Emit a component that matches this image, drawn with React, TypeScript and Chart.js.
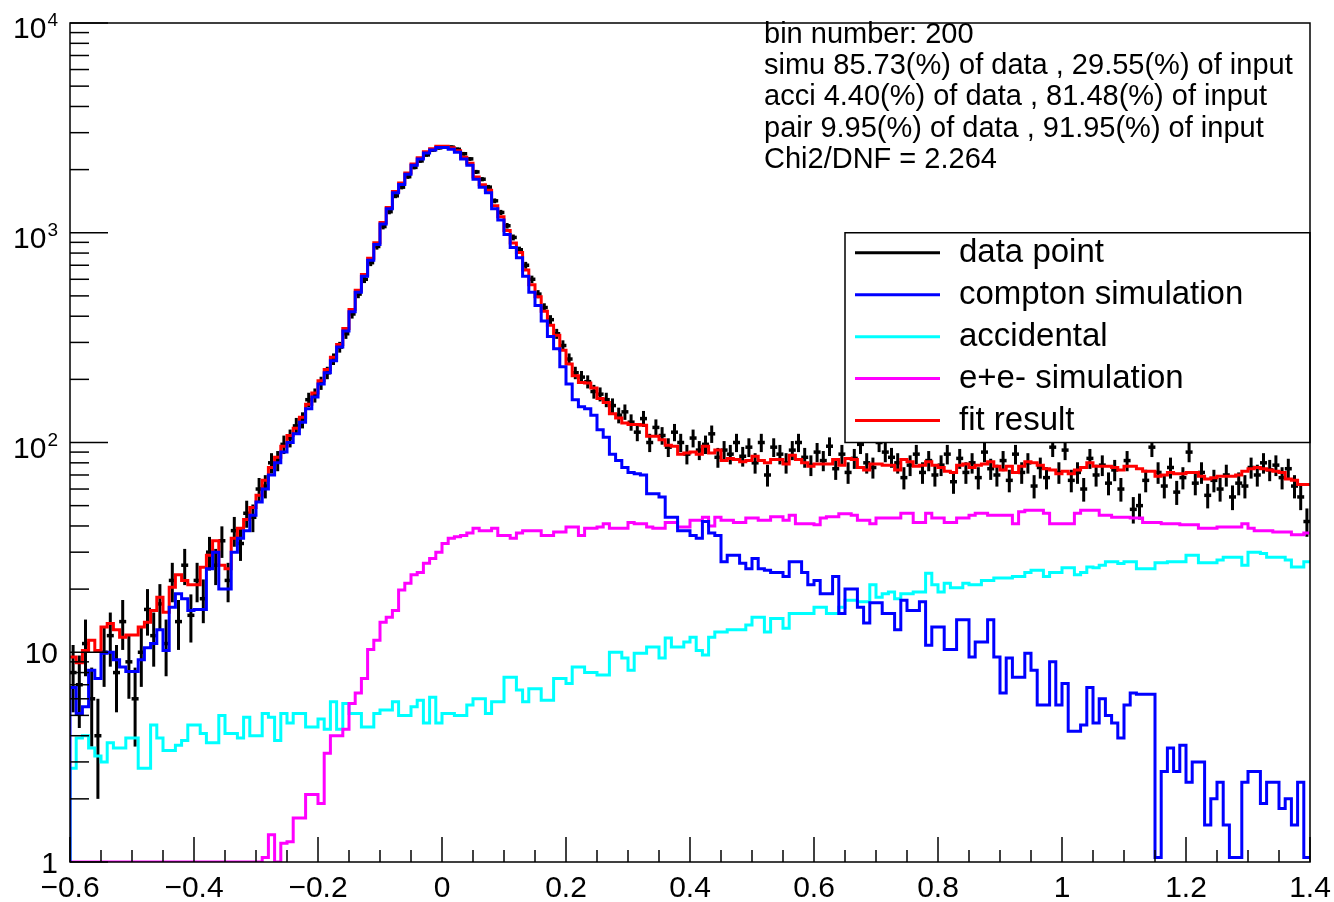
import React, { useEffect, useRef } from 'react';
import { Chart, registerables } from 'chart.js';

Chart.register(...registerables);

// ---- axis ranges / binning (200 bins) ----
const X_MIN = -0.6;
const X_MAX = 1.4;
const BIN_WIDTH = 0.01;
const Y_MIN = 1;
const Y_MAX = 10000;

// ---- series (one value per bin) ----
const COMPTON = [
  6.8, 5.1, 5.5, 8.2, 7.5, 9.9, 10, 9.2, 8.5, 8.1,
  8.1, 9.2, 10.5, 11, 12.8, 10.2, 16.4, 19, 18, 15.8,
  16, 16, 25, 30, 20, 20, 30, 35, 38, 45,
  52, 60, 70, 80, 90, 100, 110, 125, 145, 165,
  190, 215, 245, 285, 340, 420, 520, 620, 740, 880,
  1100, 1300, 1550, 1700, 1900, 2100, 2250, 2400, 2480, 2550,
  2550, 2500, 2420, 2250, 2100, 1800, 1650, 1550, 1300, 1150,
  980, 850, 760, 620, 520, 450, 380, 320, 280, 230,
  190, 160, 148, 145, 135, 115, 106, 88, 82, 76,
  72, 71, 70, 57, 57, 55, 44, 44, 38, 38,
  36, 35, 42, 37, 36, 27, 29, 29, 26.6, 25,
  28, 25, 24.6, 24, 24, 23, 27, 27, 24, 21,
  22, 19, 19, 23, 15.3, 20, 20, 16.4, 13.8, 17.2,
  17.2, 15.3, 15.3, 12.8, 17.7, 15.8, 15.8, 17.4, 10.8, 13.2,
  13.2, 10.3, 10.3, 14.3, 14.3, 9.5, 11.2, 11.2, 14.3, 9.5,
  6.4, 9.4, 7.6, 7.6, 9.9, 8.2, 5.6, 5.6, 9, 5.6,
  7.1, 4.2, 4.2, 4.5, 6.8, 4.6, 6.0, 5.0, 4.6, 3.9,
  5.6, 6.4, 6.3, 6.3, 6.3, 1.05, 2.7, 3.5, 2.7, 3.6,
  2.4, 3.0, 3.0, 1.5, 2.0, 2.4, 1.5, 1.05, 1.05, 2.4,
  2.7, 2.7, 1.9, 2.4, 2.4, 1.8, 2.0, 1.5, 2.4, 1.05,
];

const ACCIDENTAL = [
  2.8, 3.9, 4.0, 3.5, 3.2, 3.0, 3.7, 3.5, 3.5, 3.9,
  3.9, 2.8, 2.8, 4.5, 3.9, 3.4, 3.4, 3.6, 3.8, 4.5,
  4.5, 4.1, 3.7, 3.7, 5.0, 4.1, 4.1, 3.9, 4.9, 4.0,
  4.0, 5.1, 4.9, 3.8, 5.1, 4.6, 5.1, 5.1, 4.4, 4.4,
  4.8, 4.3, 5.8, 4.3, 5.7, 5.1, 5.1, 4.4, 4.4, 5.1,
  5.3, 5.3, 5.8, 5.0, 5.0, 5.5, 5.9, 4.6, 6.1, 4.6,
  5.1, 5.1, 5.0, 5.0, 5.6, 6.0, 6.0, 5.1, 5.8, 5.8,
  7.6, 7.6, 6.6, 5.8, 6.7, 6.7, 5.9, 5.9, 7.5, 7.5,
  7.1, 8.5, 8.5, 8.0, 8.0, 7.8, 7.8, 10, 10, 9.4,
  8.2, 9.9, 9.9, 10.6, 10.6, 9.4, 11.7, 10.6, 10.6, 11.2,
  11.8, 10.2, 9.7, 11.8, 12.5, 12.5, 12.8, 12.8, 12.8, 13.5,
  14.7, 14.7, 12.5, 14.5, 14.5, 13.0, 15.3, 15.3, 15.3, 15.3,
  16.4, 16.4, 15.3, 15.3, 16.4, 17.7, 17.7, 17.4, 17.4, 21,
  18.3, 19, 19.4, 18, 19, 19, 19.4, 19.4, 23.8, 21,
  19.4, 21.3, 20.3, 20.3, 21.3, 21, 21, 22, 22, 22.6,
  22.6, 22.6, 23, 23, 24, 24.6, 24.6, 23, 24, 24,
  25.3, 25.3, 23.4, 24, 25.5, 25.3, 26, 27, 27, 26.5,
  27, 27, 25, 25, 25, 26.7, 26.7, 27, 27, 27,
  29, 29, 26.7, 26.7, 26.7, 27.5, 28.4, 28.4, 28.4, 26,
  30, 30, 29.6, 28.4, 28.4, 28.4, 27.5, 25.5, 25.5, 27,
];

const PAIR = [
  1, 1, 1, 1, 1, 1, 1, 1, 1, 1,
  1, 1, 1, 1, 1, 1, 1, 1, 1, 1,
  1, 1, 1, 1, 1, 1, 1, 1, 1, 1,
  1, 1.05, 1.35, 1.0, 1.23, 1.25, 1.62, 1.62, 2.1, 2.1,
  1.9, 3.3, 4.0, 4.0, 4.3, 5.7, 6.4, 7.5, 10.3, 11.4,
  13.9, 14.7, 15.8, 19.8, 21.3, 23.4, 24, 26.6, 28, 30,
  33, 35, 35.5, 36, 37, 39, 38, 38, 39, 36,
  36, 35, 37, 38, 38, 38, 36, 36, 37.4, 37.4,
  39.5, 39.5, 36, 39, 39, 39.5, 41, 39, 39, 39,
  41.6, 41, 41, 39.5, 39, 39, 41.6, 41.6, 39.5, 39.5,
  42.6, 42.6, 44, 40, 44, 42.6, 42.6, 41.6, 41.6, 43.6,
  43.6, 42.6, 42.6, 44.3, 44.3, 42.6, 45, 41, 41, 41,
  40.5, 43.6, 44.3, 44.3, 45.8, 45.8, 45, 42.6, 42.6, 41,
  43.6, 43.6, 43.6, 43.6, 46, 46, 41.6, 41.6, 46, 43.6,
  43.6, 41.6, 41.6, 43.6, 43.6, 45, 46, 46, 45, 45,
  45, 45, 41, 46.7, 47.5, 47.5, 47.5, 46, 41, 41,
  41, 41, 46, 47.5, 47.5, 47.5, 45, 45, 44, 44,
  44, 43.6, 43.6, 41.6, 41.6, 41.6, 41, 41, 41, 40.5,
  40.5, 40.5, 39, 39, 39, 39.5, 39.5, 39.5, 39.5, 41,
  39, 38, 38, 38, 37.4, 37.4, 37.4, 36.3, 36.3, 37,
];

const FIT = [
  9.5, 8.9, 10.2, 11.4, 10.2, 13.2, 13.7, 12.8, 11.8, 12.1,
  12.1, 13.2, 13.9, 15.8, 18.3, 15.5, 20.4, 23.4, 22, 21,
  21, 25.4, 29, 34, 26, 25, 35, 39, 43, 49,
  56, 66, 76, 85, 96, 108, 117, 132, 152, 172,
  197, 223, 255, 293, 350, 431, 532, 632, 755, 897,
  1119, 1320, 1572, 1725, 1926, 2129, 2280, 2431, 2514, 2585,
  2588, 2540, 2460, 2291, 2143, 1845, 1694, 1593, 1345, 1192,
  1024, 893, 804, 664, 565, 495, 422, 362, 325, 275,
  237, 208, 193, 192, 182, 162, 155, 137, 131, 124,
  122, 122, 121, 107, 107, 103, 97, 96, 88, 89,
  90, 88, 96, 89, 92, 82, 84, 83, 81, 82,
  86, 82, 80, 83, 83, 79, 87, 83, 80, 77,
  79, 79, 79, 83, 78, 84, 83, 76, 74, 79,
  79, 78, 78, 74, 83, 81, 77, 78, 81, 78,
  76, 73, 72, 78, 79, 76, 78, 79, 81, 77,
  74, 77, 72, 77, 81, 80, 78, 75, 74, 71,
  73, 71, 74, 76, 80, 77, 77, 77, 76, 74,
  77, 77, 75, 73, 73, 69, 70, 72, 71, 71,
  72, 72, 69, 67, 68, 69, 69, 69, 70, 73,
  75, 76, 75, 74, 73, 72, 67, 66, 63, 63,
];

const DATA = [
  8, 7, 11, 6, 4, 10, 12, 8, 14, 9,
  6, 10, 16, 12, 17, 11, 22, 14, 26, 15,
  22, 18, 30, 26, 34, 22, 38, 33, 46, 44,
  60, 62, 80, 82, 98, 105, 120, 128, 160, 168,
  192, 215, 250, 285, 330, 410, 510, 600, 720, 860,
  1070, 1260, 1500, 1650, 1850, 2050, 2200, 2350, 2480, 2540,
  2570, 2560, 2500, 2380, 2250, 1950, 1800, 1650, 1420, 1250,
  1080, 950, 830, 700, 600, 510, 440, 385, 330, 290,
  250, 215, 205, 195, 175, 170, 160, 150, 135, 140,
  125, 112, 130, 100, 118, 108, 95, 112, 100, 88,
  105, 92, 98, 110, 85, 92, 88, 100, 86, 95,
  80, 100, 70, 95, 88, 80, 92, 100, 85, 78,
  90, 82, 96, 75, 88, 72, 84, 98, 80, 76,
  100, 90, 85, 80, 68, 78, 88, 72, 82, 70,
  78, 88, 65, 84, 72, 80, 68, 90, 75, 70,
  82, 66, 88, 72, 80, 62, 76, 68, 95, 72,
  92, 66, 72, 60, 84, 70, 78, 64, 74, 60,
  82, 48, 50, 66, 95, 72, 62, 76, 58, 68,
  90, 64, 72, 56, 66, 60, 70, 55, 64, 62,
  76, 70, 80, 74, 78, 68, 75, 62, 55, 42,
];

// ---- tick labels ----
const X_TICK_VALUES = [-0.6, -0.4, -0.2, 0, 0.2, 0.4, 0.6, 0.8, 1, 1.2, 1.4];
const X_TICK_LABELS = ['\u22120.6', '\u22120.4', '\u22120.2', '0', '0.2', '0.4', '0.6', '0.8', '1', '1.2', '1.4'];
const Y_TICK_VALUES = [1, 10, 100, 1000, 10000];
const Y_TICK_BASES = ['1', '10', '10', '10', '10'];
const Y_TICK_EXPONENTS = ['', '', '2', '3', '4'];

const LEGEND_LABELS = ['data point', 'compton simulation', 'accidental', 'e+e- simulation', 'fit result'];
const LEGEND_COLORS = ['#000000', '#0000ff', '#00ffff', '#ff00ff', '#ff0000'];

const STATS_LINES = [
  'bin number: 200',
  'simu 85.73(%) of data , 29.55(%) of input',
  'acci 4.40(%) of data , 81.48(%) of input',
  'pair 9.95(%) of data , 91.95(%) of input',
  'Chi2/DNF = 2.264',
];

const FONT = "'Liberation Sans', Arial, Helvetica, sans-serif";

const lowEdge = (i: number) => Math.round((X_MIN + i * BIN_WIDTH) * 10000) / 10000;
const binCenter = (i: number) => Math.round((X_MIN + (i + 0.5) * BIN_WIDTH) * 10000) / 10000;

function histPoints(values: number[], fromBottom: boolean) {
  const pts: { x: number; y: number }[] = [];
  if (fromBottom) pts.push({ x: X_MIN, y: Y_MIN });
  values.forEach((v, i) => pts.push({ x: lowEdge(i), y: v }));
  pts.push({ x: X_MAX, y: values[values.length - 1] });
  return pts;
}

const errorBarsPlugin = {
  id: 'errorBars',
  beforeDatasetsDraw(chart: any) {
    const { ctx, chartArea, scales } = chart;
    const x = scales.x;
    const y = scales.y;
    ctx.save();
    ctx.beginPath();
    ctx.rect(chartArea.left, chartArea.top, chartArea.right - chartArea.left, chartArea.bottom - chartArea.top);
    ctx.clip();
    ctx.strokeStyle = '#000';
    ctx.lineWidth = 3;
    DATA.forEach((v, i) => {
      const e = Math.sqrt(v);
      const px = x.getPixelForValue(binCenter(i));
      const top = y.getPixelForValue(v + e);
      const bot = y.getPixelForValue(Math.max(v - e, Y_MIN));
      ctx.beginPath();
      ctx.moveTo(px, top);
      ctx.lineTo(px, bot);
      ctx.stroke();
    });
    ctx.restore();
  },
};

const decorPlugin = {
  id: 'rootDecor',
  afterDraw(chart: any) {
    const { ctx, chartArea, scales } = chart;
    const x = scales.x;
    const y = scales.y;
    const { left, right, top, bottom } = chartArea;
    ctx.save();

    // legend box
    const lx0 = 845;
    const ly0 = y.getPixelForValue(1000);
    const ly1 = y.getPixelForValue(100);
    ctx.fillStyle = '#fff';
    ctx.fillRect(lx0, ly0, right - lx0, ly1 - ly0);
    ctx.strokeStyle = '#000';
    ctx.lineWidth = 1.5;
    ctx.strokeRect(lx0, ly0, right - lx0, ly1 - ly0);
    const rowH = (ly1 - ly0) / 5;
    ctx.font = `33px ${FONT}`;
    ctx.textBaseline = 'middle';
    ctx.textAlign = 'left';
    LEGEND_LABELS.forEach((lab, i) => {
      const cy = ly0 + rowH * (i + 0.5) - 1;
      ctx.strokeStyle = LEGEND_COLORS[i];
      ctx.lineWidth = 3;
      ctx.beginPath();
      ctx.moveTo(855, cy);
      ctx.lineTo(940, cy);
      ctx.stroke();
      ctx.fillStyle = '#000';
      ctx.fillText(lab, 959, cy);
    });

    // frame
    ctx.strokeStyle = '#000';
    ctx.lineWidth = 1.5;
    ctx.strokeRect(left, top, right - left, bottom - top);

    // x ticks (every 0.05, major every 0.2)
    for (let k = 0; k <= 40; k++) {
      const v = X_MIN + k * 0.05;
      const px = x.getPixelForValue(v);
      const len = k % 4 === 0 ? 25 : 12;
      ctx.beginPath();
      ctx.moveTo(px, bottom);
      ctx.lineTo(px, bottom - len);
      ctx.stroke();
    }
    // y ticks (log)
    for (let d = 0; d < 4; d++) {
      for (let m = 1; m <= 9; m++) {
        const v = m * Math.pow(10, d);
        const py = y.getPixelForValue(v);
        const len = m === 1 ? 38 : 19;
        ctx.beginPath();
        ctx.moveTo(left, py);
        ctx.lineTo(left + len, py);
        ctx.stroke();
      }
    }
    {
      const py = y.getPixelForValue(Y_MAX);
      ctx.beginPath();
      ctx.moveTo(left, py);
      ctx.lineTo(left + 38, py);
      ctx.stroke();
    }

    // x labels
    ctx.fillStyle = '#000';
    ctx.font = `30px ${FONT}`;
    ctx.textAlign = 'center';
    ctx.textBaseline = 'alphabetic';
    X_TICK_VALUES.forEach((v, i) => {
      ctx.fillText(X_TICK_LABELS[i], x.getPixelForValue(v), 897);
    });

    // y labels
    const labelRight = 58;
    Y_TICK_VALUES.forEach((v, i) => {
      const py = y.getPixelForValue(v);
      const exp = Y_TICK_EXPONENTS[i];
      ctx.textAlign = 'right';
      if (!exp) {
        ctx.font = `30px ${FONT}`;
        ctx.fillText(Y_TICK_BASES[i], labelRight, py + 11);
      } else {
        ctx.font = `19px ${FONT}`;
        const w = ctx.measureText(exp).width;
        ctx.fillText(exp, labelRight, py + 3);
        ctx.font = `30px ${FONT}`;
        ctx.fillText(Y_TICK_BASES[i], labelRight - w - 1, py + 15);
      }
    });

    // stats text
    ctx.font = `29px ${FONT}`;
    ctx.textAlign = 'left';
    STATS_LINES.forEach((s, i) => {
      ctx.fillText(s, 764, 43 + 31.2 * i);
    });

    ctx.restore();
  },
};

export default function App() {
  const canvasRef = useRef<HTMLCanvasElement | null>(null);

  useEffect(() => {
    document.body.style.margin = '0';
    const canvas = canvasRef.current;
    if (!canvas) return;
    const dataPts = DATA.map((v, i) => ({ x: binCenter(i), y: v }));
    const common = { pointRadius: 0, borderWidth: 3, stepped: 'before' as const, fill: false, borderJoinStyle: 'miter' as const, borderCapStyle: 'butt' as const };
    const chart = new Chart(canvas, {
      type: 'line',
      data: {
        datasets: [
          { label: 'compton simulation', data: histPoints(COMPTON, true), borderColor: '#0000ff', order: 0, ...common },
          { label: 'fit result', data: histPoints(FIT, false), borderColor: '#ff0000', order: 1, ...common },
          { label: 'e+e- simulation', data: histPoints(PAIR, true), borderColor: '#ff00ff', order: 2, ...common },
          { label: 'accidental', data: histPoints(ACCIDENTAL, true), borderColor: '#00ffff', order: 3, ...common },
          {
            label: 'data point', data: dataPts, showLine: false, pointStyle: 'line', pointRadius: 3.5,
            borderColor: '#000000', backgroundColor: '#000000', borderWidth: 3.5, order: 4,
          },
        ],
      } as any,
      options: {
        responsive: false,
        animation: false,
        devicePixelRatio: 1,
        events: [],
        layout: { padding: { left: 70, top: 23, right: 24, bottom: 40 } },
        plugins: { legend: { display: false }, tooltip: { enabled: false }, title: { display: false } },
        scales: {
          x: { type: 'linear', min: X_MIN, max: X_MAX, display: false },
          y: { type: 'logarithmic', min: Y_MIN, max: Y_MAX, display: false },
        },
      } as any,
      plugins: [errorBarsPlugin, decorPlugin],
    });
    return () => chart.destroy();
  }, []);

  return (
    <div style={{ position: 'fixed', left: 0, top: 0, width: 1334, height: 902, background: '#fff' }}>
      <canvas ref={canvasRef} width={1334} height={902} style={{ width: 1334, height: 902, display: 'block' }} />
    </div>
  );
}
